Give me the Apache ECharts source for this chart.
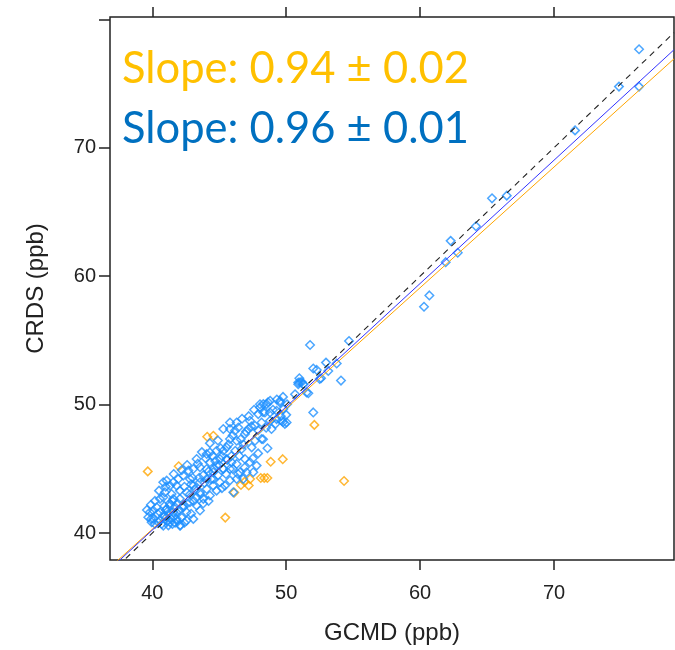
<!DOCTYPE html>
<html>
<head>
<meta charset="utf-8">
<script src="https://cdn.jsdelivr.net/npm/echarts@6/dist/echarts.min.js"></script>
<style>
html,body{margin:0;padding:0;background:#fff;}
#chart{width:675px;height:650px;}
</style>
</head>
<body>
<div id="chart"></div>
<script>
// Axis ranges and ticks
const xRange = [36.84, 78.96];
const yRange = [37.9, 80.18];
const xTickValues = [40, 50, 60, 70];
const yTickValues = [40, 50, 60, 70, 80];
const yLabelValues = [40, 50, 60, 70];

// Fit lines: [orange fit, blue fit, 1:1 reference]
const fitNames = ['orange fit', 'blue fit', '1:1'];
const fitSlopes = [0.94, 0.96, 1.0];
const fitIntercepts = [2.70, 1.83, 0.0];

// Annotation texts
const slopeTexts = ['Slope: 0.94 \u00b1 0.02', 'Slope: 0.96 \u00b1 0.01'];

// Orange series (GCMD, CRDS) in ppb
const orangePoints = [
  [39.66,44.8],[41.97,45.2],[44.1,47.5],[44.56,47.57],[45.45,41.2],[46.12,43.15],
  [46.62,43.74],[46.9,44.0],[47.2,43.7],[47.3,44.2],[48.1,44.28],[48.36,44.28],
  [48.59,44.28],[48.84,45.55],[49.74,45.75],[52.1,48.42],[54.32,44.05]
];

// Blue series (GCMD, CRDS) in ppb
const bluePoints = [
  [76.35,77.67],[76.35,74.76],[74.85,74.76],[71.57,71.35],[66.47,66.27],[65.37,66.06],
  [64.17,63.89],[62.28,62.75],[62.81,61.82],[61.91,61.09],[60.69,58.5],[60.29,57.62],
  [51.78,54.64],[54.69,54.95],[54.09,51.87],[53.77,53.2],[52.97,53.27],[53.14,52.62],
  [52.02,52.81],[52.28,52.7],[52.6,52.05],[50.98,52.05],[51.16,51.76],[50.9,51.58],
  [51.28,51.58],[52.02,49.39],[51.65,50.89],[52.5,52.0],[49.9,48.5],
  [48.27,47.3],[49.76,48.63],[49.54,50.29],[48.64,50.18],[48.04,50.03],[48.27,49.4],
  [49.01,49.6],[49.76,50.6],[50.06,50.03],[50.66,50.8],[51.03,51.74],
  [50.9,51.72],[51.27,51.59],[51.52,50.94],[48.54,50.04],[48.29,50.04],[48.04,49.78],
  [47.91,49.26],[48.41,49.39],[48.79,49.39],[49.28,49.52],[49.53,50.17],[49.78,49.65],
  [50.03,48.61],[49.66,48.74],[49.28,48.87],[48.79,48.74],[48.16,48.61],[47.67,48.35],
  [47.29,48.74],[47.17,48.10],[46.92,47.71],[47.67,47.19],[48.16,47.32],[47.42,46.67],
  [46.67,46.54],[46.30,48.61],[46.42,48.22],[46.17,47.97],[45.80,48.10],[45.30,48.10],
  [45.80,47.32],[46.30,47.19],[45.55,46.67],[45.30,46.41],[44.80,46.41],[44.30,46.28],
  [44.06,46.15],[45.05,45.76],[45.55,45.76],[45.92,45.51],[46.30,45.38],[45.80,44.99],
  [45.30,44.99],[44.80,45.25],[44.55,44.73],[44.30,45.51],[44.06,44.99],[43.56,45.12],
  [43.31,45.76],[43.06,44.99],[42.69,44.86],[42.81,44.21],[42.31,44.47],[41.94,44.21],
  [41.82,43.69],[41.57,43.95],[41.32,43.69],[41.07,44.08],[40.82,43.95],[40.94,43.17],
  [41.44,43.04],[42.06,43.30],[42.56,43.17],[43.06,43.69],[43.56,43.95],[44.06,44.21],
  [44.55,44.21],[45.05,43.95],[45.42,43.69],[46.05,43.17],[46.30,44.21],[46.79,44.21],
  [47.04,44.73],[46.55,44.73],[47.54,44.73],[47.79,45.25],[47.29,45.51],[46.92,45.76],
  [40.82,42.79],[40.57,42.66],[40.32,42.01],[40.07,41.75],[39.82,41.62],[39.70,41.23],
  [40.07,41.10],[39.95,40.84],[40.45,40.84],[40.82,41.36],[41.07,41.88],[41.32,42.14],
  [41.57,41.62],[41.82,41.10],[42.06,40.58],[41.32,40.84],[40.82,40.58],[40.57,41.62],
  [41.07,41.23],[41.57,42.66],[42.06,42.66],[42.31,42.14],[42.56,41.62],[42.81,42.40],
  [43.31,42.14],[43.81,42.66],[43.56,43.17],[44.06,43.43],[44.55,43.69],[44.30,42.92],
  [43.31,42.79],[43.06,41.10],[42.56,40.97],[43.56,41.75],
  [40.6,41.0],[40.9,41.3],[41.2,41.5],[41.4,41.1],[41.6,41.3],[41.8,41.6],[41.1,40.9],
  [41.5,40.7],[41.9,40.9],[42.2,41.2],[42.0,41.8],[41.7,42.0],[41.3,42.3],[40.9,42.1],
  [41.5,42.5],[42.3,42.0],[42.6,42.3],[40.4,41.5],[41.0,41.8],[42.1,40.6],
  [43.8,44.5],[44.2,44.8],[44.6,45.0],[45.0,45.3],[45.3,45.0],[44.9,44.5],[44.4,44.2],
  [43.9,43.9],[43.5,44.3],[45.6,45.7],[45.9,46.0],[46.2,46.4],[44.7,45.6],[45.2,46.0],
  [43.2,43.4],[42.8,43.0],[42.9,43.8],[43.6,43.0],[46.5,46.0],[46.8,46.9],
  [44.0,45.8],[44.5,46.0],[45.1,46.6],[45.7,46.9],[46.0,47.6],[46.6,47.3],[47.0,47.9],
  [47.4,48.3],[47.9,48.0],[48.5,48.2],[48.9,48.1],[49.2,48.5],[49.6,49.1],[50.0,49.2],
  [49.3,50.4],[48.8,50.3],[47.6,49.6],[47.2,49.1],[46.7,48.9],[45.8,48.6],[44.9,47.2],
  [44.3,47.0],[43.7,46.3],[43.4,45.4],[42.6,45.3],[42.2,44.9],[41.6,44.6],[41.0,43.6],
  [40.5,43.3],[40.2,42.5],[39.9,42.2],[39.6,41.8],[39.9,41.1],[40.2,40.7],[40.7,40.7],
  [41.2,40.6],[41.7,40.8],[42.4,40.8],[42.9,41.5],[43.1,42.5],[43.8,42.3],[44.2,42.5],
  [44.8,43.3],[45.2,43.5],[45.8,44.1],[46.4,44.6],[46.9,45.1],[47.5,45.8],[47.9,46.2],
  [48.6,46.6],[45.5,44.6],[46.0,45.0],[43.0,44.3],[42.4,43.6],[41.9,42.3]
];

const chart = echarts.init(document.getElementById('chart'), null, {renderer: 'canvas'});

const axisFont = 'Liberation Sans, Arial, sans-serif';
const tickStyle = {color: '#222', width: 1.5};

function fitLine(i) {
  return [
    [xRange[0], fitSlopes[i] * xRange[0] + fitIntercepts[i]],
    [xRange[1], fitSlopes[i] * xRange[1] + fitIntercepts[i]]
  ];
}

const option = {
  backgroundColor: '#fff',
  animation: false,
  grid: {left: 110, right: 1, top: 17, bottom: 89, show: true, borderColor: '#222', borderWidth: 1.5, backgroundColor: '#fff'},
  xAxis: [
    {
      type: 'value', min: xRange[0], max: xRange[1], position: 'bottom',
      axisLine: {show: false}, splitLine: {show: false},
      axisTick: {show: true, length: 10, customValues: xTickValues, lineStyle: tickStyle},
      axisLabel: {customValues: xTickValues, fontSize: 20, color: '#222', fontFamily: axisFont, margin: 23},
      name: 'GCMD (ppb)', nameLocation: 'middle', nameGap: 61,
      nameTextStyle: {fontSize: 24, color: '#222', fontFamily: axisFont}
    },
    {
      type: 'value', min: xRange[0], max: xRange[1], position: 'top',
      axisLine: {show: false}, splitLine: {show: false},
      axisTick: {show: true, length: 10, customValues: xTickValues, lineStyle: tickStyle},
      axisLabel: {show: false}
    }
  ],
  yAxis: [
    {
      type: 'value', min: yRange[0], max: yRange[1], position: 'left',
      axisLine: {show: false}, splitLine: {show: false},
      axisTick: {show: true, length: 11, customValues: yTickValues, lineStyle: tickStyle},
      axisLabel: {customValues: yLabelValues, fontSize: 20, color: '#222', fontFamily: axisFont, margin: 14},
      name: 'CRDS (ppb)', nameLocation: 'middle', nameGap: 62, nameRotate: 90,
      nameTextStyle: {fontSize: 24, color: '#222', fontFamily: axisFont}
    }
  ],
  graphic: [
    {type: 'text', left: 122, top: 47, z: 100,
     style: {text: slopeTexts[0], fill: '#FFC000', font: '43.5px Lato, sans-serif'}},
    {type: 'text', left: 122, top: 107, z: 100,
     style: {text: slopeTexts[1], fill: '#0070C0', font: '43.5px Lato, sans-serif'}}
  ],
  series: [
    {
      name: 'orange', type: 'scatter', data: orangePoints, symbol: 'diamond', symbolSize: 8.5,
      itemStyle: {color: 'rgba(0,0,0,0)', borderColor: '#FFA500', borderWidth: 1.5}, z: 2
    },
    {
      name: 'blue', type: 'scatter', data: bluePoints, symbol: 'diamond', symbolSize: 8.5,
      itemStyle: {color: 'rgba(0,0,0,0)', borderColor: '#1E90FF', borderWidth: 1.5}, z: 3
    },
    {
      name: fitNames[0], type: 'line', data: fitLine(0), symbol: 'none', clip: true,
      lineStyle: {color: '#FFA500', width: 1}, z: 4
    },
    {
      name: fitNames[1], type: 'line', data: fitLine(1), symbol: 'none', clip: true,
      lineStyle: {color: '#3333FF', width: 1}, z: 5
    },
    {
      name: fitNames[2], type: 'line', data: fitLine(2), symbol: 'none', clip: true,
      lineStyle: {color: '#222', width: 1.1, type: [6, 5]}, z: 6
    }
  ]
};
chart.setOption(option);
</script>
</body>
</html>
